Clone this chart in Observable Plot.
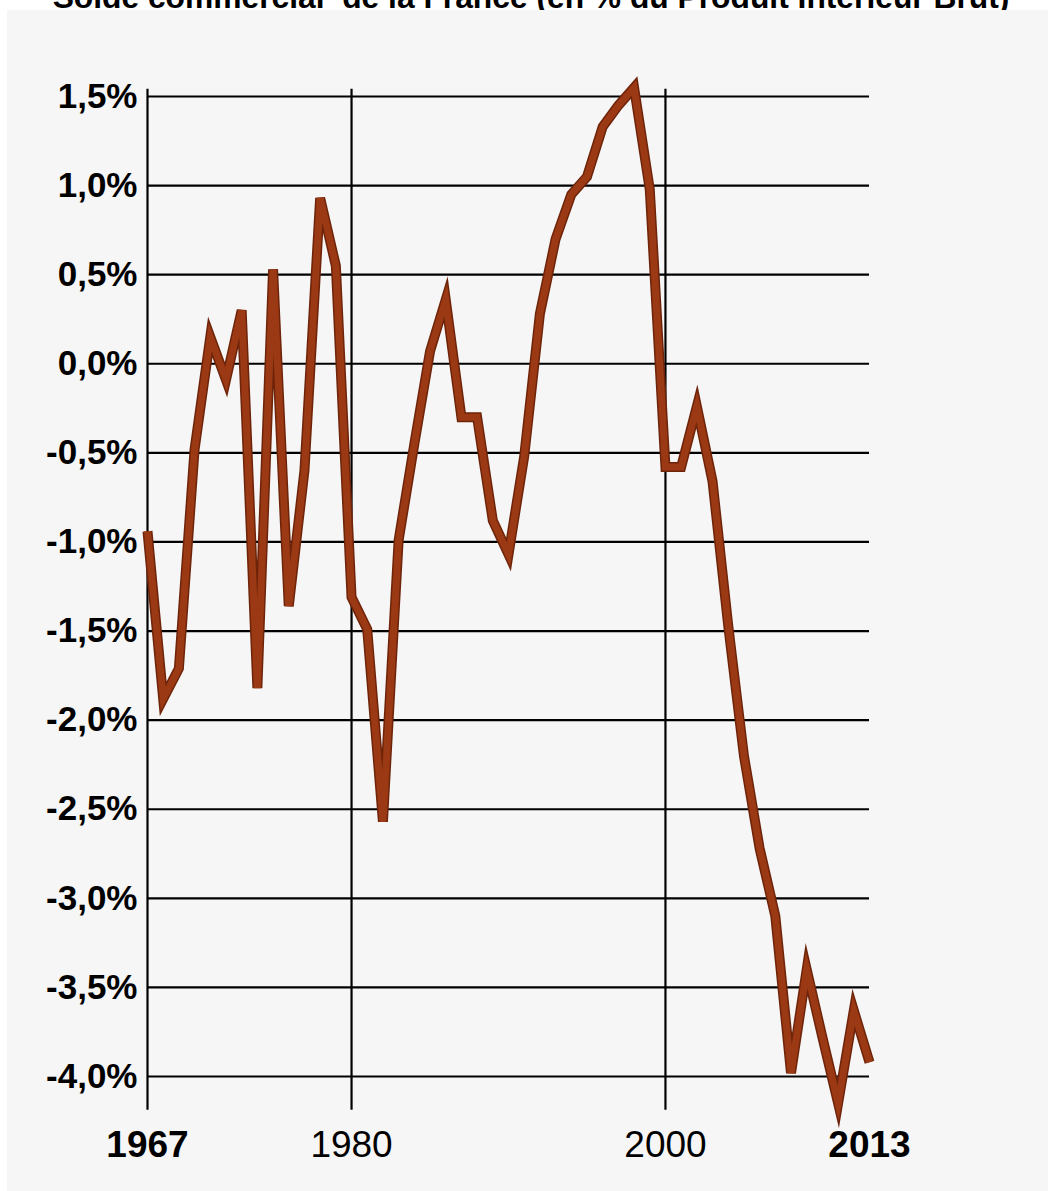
<!DOCTYPE html>
<html>
<head>
<meta charset="utf-8">
<script src="https://cdn.jsdelivr.net/npm/d3@7"></script>
<script src="https://cdn.jsdelivr.net/npm/@observablehq/plot@0.6"></script>
<style>
  html, body { margin: 0; padding: 0; background: #ffffff; }
  body { width: 1048px; height: 1191px; position: relative; overflow: hidden; }
  #title { position: absolute; top: -16px; left: 0; width: 1062px; text-align: center;
           font-family: "Liberation Sans", Arial, sans-serif; font-weight: bold; font-size: 30px;
           line-height: 30px; color: #000; white-space: pre; }
  #chart { position: absolute; top: 10px; left: 7px; }
</style>
</head>
<body>
<div id="title"></div>
<div id="chart"></div>
<script>
const titleText = "Solde commercial  de la France (en % du Produit Intérieur Brut)";

const years = [1967,1968,1969,1970,1971,1972,1973,1974,1975,1976,1977,1978,1979,
  1980,1981,1982,1983,1984,1985,1986,1987,1988,1989,1990,1991,1992,1993,1994,1995,
  1996,1997,1998,1999,2000,2001,2002,2003,2004,2005,2006,2007,2008,2009,2010,2011,2012,2013];
const solde = [-0.94,-1.88,-1.71,-0.48,0.15,-0.09,0.30,-1.82,0.53,-1.36,-0.60,0.93,0.55,
  -1.31,-1.49,-2.57,-0.99,-0.45,0.07,0.36,-0.30,-0.30,-0.88,-1.07,-0.52,0.28,0.70,0.95,1.05,
  1.33,1.45,1.55,0.98,-0.58,-0.58,-0.24,-0.66,-1.47,-2.20,-2.72,-3.10,-3.98,-3.40,-3.78,-4.15,-3.63,-3.92];
const yTicks = [1.5,1.0,0.5,0.0,-0.5,-1.0,-1.5,-2.0,-2.5,-3.0,-3.5,-4.0];
const xTicks = [1967,1980,2000,2013];
const xGridYears = [1967,1980,2000];
const boldYears = [1967,2013];

const data = years.map((y,i) => ({year: y, value: solde[i]}));
const fmt = v => v.toFixed(1).replace(".", ",") + "%";
const font = "'Liberation Sans', Arial, sans-serif";

// title (only its lower part is visible, as in the reference)
const titleEl = document.getElementById("title");
titleEl.textContent = titleText;
{
  const c = document.createElement("canvas").getContext("2d");
  c.font = "bold 30px 'Liberation Sans'";
  const w = c.measureText(titleText).width;
  const size = 30 * 957 / w;
  titleEl.style.fontSize = size.toFixed(2) + "px";
  titleEl.style.lineHeight = size.toFixed(2) + "px";
  titleEl.style.top = (9 - size * 0.85).toFixed(1) + "px";
}

const chart = Plot.plot({
  width: 1041,
  height: 1181,
  marginLeft: 140,
  marginRight: 179,
  marginTop: 86,
  marginBottom: 115,
  style: {background: "#f6f6f6", fontFamily: font, overflow: "visible"},
  x: {domain: [1967, 2013], axis: null},
  y: {domain: [-4, 1.5], axis: null},
  marks: [
    Plot.ruleY(yTicks, {x1: 1967, x2: 2013, stroke: "#000", strokeWidth: 2.2}),
    Plot.ruleX(xGridYears, {y1: -4.19, y2: 1.54, stroke: "#000", strokeWidth: 2.2}),
    Plot.line(data, {x: "year", y: "value", stroke: "#6e240a", strokeWidth: 10,
      strokeLinejoin: "miter", strokeMiterlimit: 6, strokeLinecap: "butt"}),
    Plot.line(data, {x: "year", y: "value", stroke: "#9a3913", strokeWidth: 7,
      strokeLinejoin: "miter", strokeMiterlimit: 6, strokeLinecap: "butt"}),
    Plot.text(yTicks, {x: 1967, y: d => d, text: fmt, dx: -10, textAnchor: "end",
      lineAnchor: "middle", fontSize: 35, fontWeight: "bold", fill: "#000"}),
    Plot.text(xTicks.filter(d => boldYears.includes(d)), {x: d => d, y: -4, text: d => String(d),
      dy: 69, lineAnchor: "middle", fontSize: 37, fontWeight: "bold", fill: "#000"}),
    Plot.text(xTicks.filter(d => !boldYears.includes(d)), {x: d => d, y: -4, text: d => String(d),
      dy: 69, lineAnchor: "middle", fontSize: 37, fontWeight: "normal", fill: "#000"})
  ]
});
document.getElementById("chart").appendChild(chart);
</script>
</body>
</html>
